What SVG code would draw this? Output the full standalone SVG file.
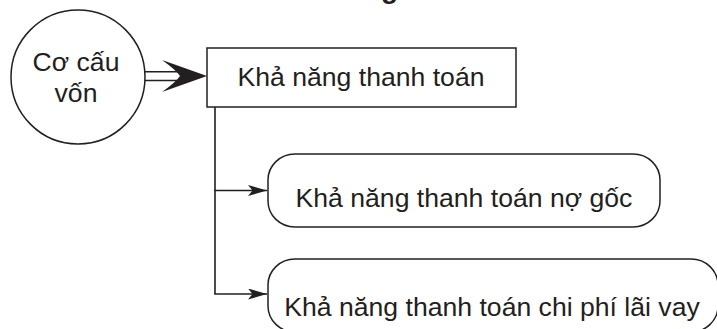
<svg xmlns="http://www.w3.org/2000/svg" width="717" height="329" viewBox="0 0 717 329">
<style>
.t{font-family:"Liberation Sans",Arial,sans-serif;font-size:26.6px;fill:#231f20;text-anchor:middle}
.s{fill:#fff;stroke:#231f20;stroke-width:1.5}
.c{fill:none;stroke:#231f20;stroke-width:1.6}
</style>
<defs>
<marker id="ah" markerUnits="userSpaceOnUse" markerWidth="20" markerHeight="12" refX="19" refY="5.5" orient="auto" viewBox="0 0 20 12">
<path d="M0,0 L19,5.5 L0,11 L4.5,5.5 Z" fill="#231f20"/>
</marker>
</defs>
<text x="381" y="-2" style="font-family:'Liberation Sans',Arial,sans-serif;font-size:28px;font-weight:bold;fill:#231f20">g</text>
<g id="connectors">
<line class="c" x1="145" y1="71.8" x2="180" y2="71.8"/>
<line class="c" x1="145" y1="80.5" x2="180" y2="80.5"/>
<path d="M207,76 L162,60 Q176,70 180,76 Q176,82 162,92 Z" fill="#231f20"/>
<path class="c" d="M215,107 V294"/>
<line class="c" x1="214.2" y1="190.5" x2="267" y2="190.5" marker-end="url(#ah)"/>
<line class="c" x1="214.2" y1="294" x2="267" y2="294" marker-end="url(#ah)"/>
</g>
<g id="node-cocauvon">
<circle class="s" cx="78" cy="77" r="67"/>
<text class="t" x="76" y="71">Cơ cấu</text>
<text class="t" x="76" y="102">vốn</text>
</g>
<g id="node-khanang">
<rect class="s" x="207" y="48" width="309" height="59"/>
<text class="t" x="361" y="86">Khả năng thanh toán</text>
</g>
<g id="node-nogoc">
<rect class="s" x="268" y="154" width="392" height="73" rx="27" ry="26"/>
<text class="t" x="464" y="207">Khả năng thanh toán nợ gốc</text>
</g>
<g id="node-laivay">
<rect class="s" x="268" y="259" width="450" height="73" rx="27" ry="26"/>
<text class="t" x="492" y="316">Khả năng thanh toán chi phí lãi vay</text>
</g>
</svg>
